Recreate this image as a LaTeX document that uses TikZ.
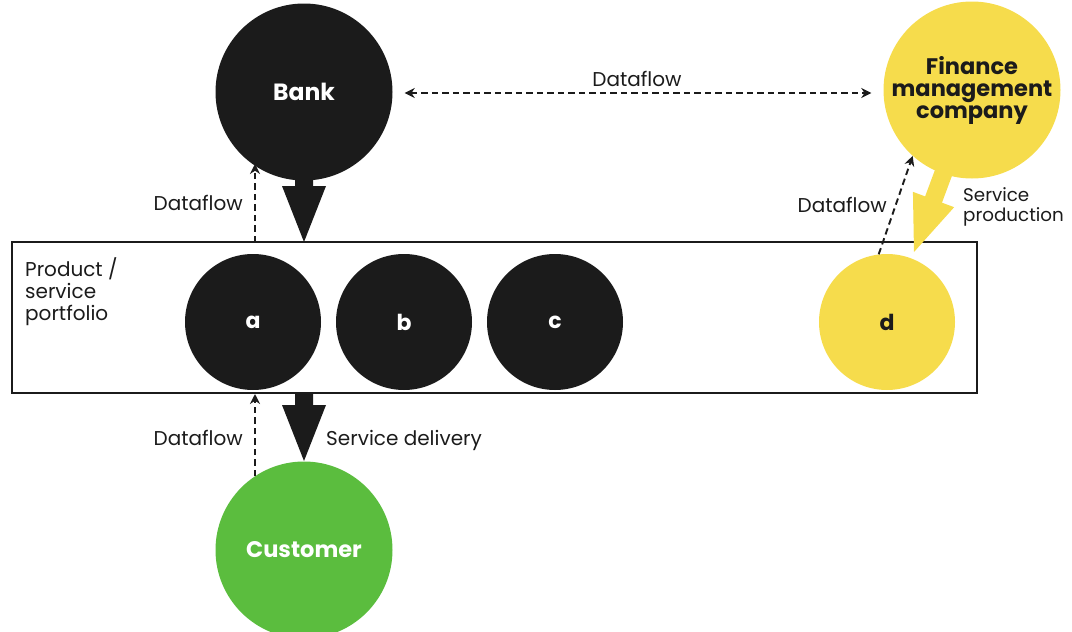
\documentclass[tikz,border=0pt]{standalone}
\usepackage{fontspec}
\setmainfont{Poppins}
\usetikzlibrary{calc,arrows.meta}
\definecolor{ink}{HTML}{1B1B1B}
\definecolor{fy}{HTML}{F6DC4C}
\definecolor{fg}{HTML}{5BBD3E}
\newcommand{\fatarrow}[4]{%
  \path ($(#3)!56pt!(#2)$) coordinate (#1h);
  \fill[#4] ($(#2)!9pt!90:(#3)$) -- ($(#1h)!9pt!90:(#3)$) -- ($(#1h)!22pt!90:(#3)$) -- (#3)
    -- ($(#1h)!22pt!-90:(#3)$) -- ($(#1h)!9pt!-90:(#3)$) -- ($(#2)!9pt!-90:(#3)$) -- cycle;}
\tikzset{
  bigcirc/.style={circle, minimum size=177pt, inner sep=0pt, align=center,
    font=\bfseries\fontsize{22.5}{22}\selectfont},
  smallcirc/.style={circle, minimum size=136pt, inner sep=0pt,
    font=\bfseries\fontsize{22}{22}\selectfont},
  lbl/.style={font=\fontsize{20}{21}\selectfont, text=ink, inner sep=0pt},
  flow/.style={dashed, dash pattern=on 6.5pt off 4pt, line width=1.9pt, draw=ink,
    -{Stealth[length=10pt,width=10pt]}},
  flowboth/.style={flow, {Stealth[length=10pt,width=10pt]}-{Stealth[length=10pt,width=10pt]}}
}
\begin{document}
\begin{tikzpicture}[x=1pt,y=-1pt]
\useasboundingbox (0,0) rectangle (1072,632);
% portfolio frame
\node[draw=ink, line width=1.3pt, minimum width=965pt, minimum height=151pt, inner sep=0pt] (box) at (494.5,317.5) {};
\node[lbl, anchor=base west, align=left, font=\fontsize{20}{22}\selectfont] (port) at (25,320) {Product /\\service\\portfolio};
% circles
\node[bigcirc, fill=ink, text=white, font=\bfseries\fontsize{23.5}{22}\selectfont] (bank) at (304,92) {Bank};
\node[bigcirc, fill=fy, text=ink] (fin) at (972,90) {Finance\\management\\company};
\node[bigcirc, fill=fg, text=white] (cust) at (304,550) {Customer};
\node[smallcirc, fill=ink, text=white] (a) at (253,322) {a};
\node[smallcirc, fill=ink, text=white] (b) at (404,322) {b};
\node[smallcirc, fill=ink, text=white] (c) at (555,322) {c};
\node[smallcirc, fill=fy, text=ink] (d) at (887,322) {d};
% fat arrows
\coordinate (bt) at (304,176);
\coordinate (bp) at (304,242);
\fatarrow{bk}{bt}{bp}{ink}
\coordinate (ct) at (304,393);
\coordinate (cp) at (304,461);
\fatarrow{cu}{ct}{cp}{ink}
\coordinate (ft) at (949,158);
\coordinate (fp) at (914,252);
\fatarrow{fi}{ft}{fp}{fy}
% dataflows
\draw[flowboth] (bank.east) ++(12,1) coordinate (t1) -- ($(fin.west)+(-12,3)$) coordinate (t2);
\node[lbl, anchor=base] (l1) at (637,86) {Dataflow};
\coordinate (lb) at (255,242);
\coordinate (lt) at (255,164);
\draw[flow] (lb) -- (lt);
\node[lbl, anchor=base east] (l2) at (243,210) {Dataflow};
\coordinate (cb) at (255,476);
\coordinate (ctp) at (255,394);
\draw[flow] (cb) -- (ctp);
\node[lbl, anchor=base east] (l3) at (243,445) {Dataflow};
\node[lbl, anchor=base west] (l4) at (326,445) {Service delivery};
\draw[flow] (d.97) -- (fin.228);
\node[lbl, anchor=base east] (l5) at (887,212) {Dataflow};
\node[lbl, anchor=base west, align=left, font=\fontsize{18.3}{20}\selectfont] (l6) at (963,221) {Service\\production};
\end{tikzpicture}
\end{document}
